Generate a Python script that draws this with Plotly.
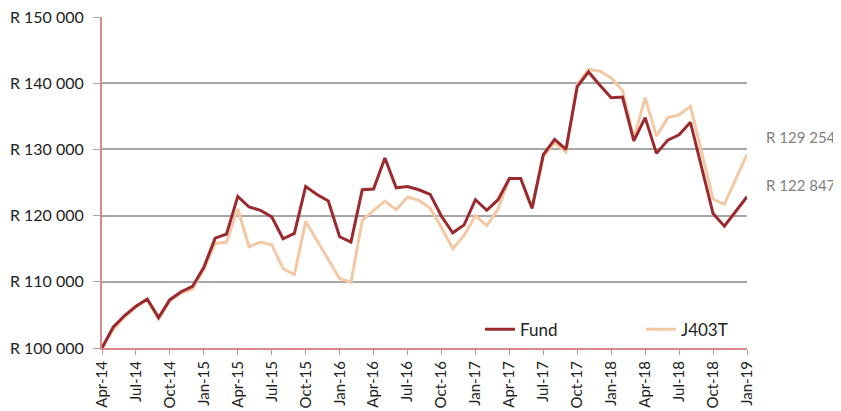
import plotly.graph_objects as go

months = ["Apr-14","May-14","Jun-14","Jul-14","Aug-14","Sep-14","Oct-14","Nov-14","Dec-14",
          "Jan-15","Feb-15","Mar-15","Apr-15","May-15","Jun-15","Jul-15","Aug-15","Sep-15","Oct-15","Nov-15","Dec-15",
          "Jan-16","Feb-16","Mar-16","Apr-16","May-16","Jun-16","Jul-16","Aug-16","Sep-16","Oct-16","Nov-16","Dec-16",
          "Jan-17","Feb-17","Mar-17","Apr-17","May-17","Jun-17","Jul-17","Aug-17","Sep-17","Oct-17","Nov-17","Dec-17",
          "Jan-18","Feb-18","Mar-18","Apr-18","May-18","Jun-18","Jul-18","Aug-18","Sep-18","Oct-18","Nov-18","Dec-18",
          "Jan-19"]

fund = [100000,103200,104900,106300,107400,104600,107300,108500,109300,
        112200,116600,117200,122900,121300,120800,119800,116500,117300,124400,123200,122200,
        116800,116000,123900,124000,128700,124200,124400,123900,123200,119900,117400,118600,
        122400,120800,122400,125600,125600,121100,129200,131500,130000,139500,141700,139700,
        137800,137900,131300,134800,129400,131400,132200,134100,127300,120300,118400,120700,
        122847]

j403t = [100000,102800,104700,106200,107300,104400,107100,108300,108900,
         111900,115800,116000,121000,115300,116000,115600,112000,111100,119100,116300,113400,
         110500,109900,119300,120800,122200,120900,122800,122300,121100,118200,115000,117000,
         120000,118500,121000,125600,125600,121100,128900,131000,129600,139800,142100,141800,
         140800,138900,131600,137800,132000,134800,135200,136500,129300,122500,121700,125400,
         129254]

tick_labels = months[::3]
y_ticks = [100000,110000,120000,130000,140000,150000]
y_ticktext = ["R " + f"{v:,}".replace(",", " ") for v in y_ticks]

FUND_COLOR = "#9b2a2f"
J_COLOR = "#f3c8a4"
FONT = "Lato"

fig = go.Figure()
fig.add_trace(go.Scatter(x=months, y=j403t, name="J403T", mode="lines",
                         line=dict(color=J_COLOR, width=3)))
fig.add_trace(go.Scatter(x=months, y=fund, name="Fund", mode="lines",
                         line=dict(color=FUND_COLOR, width=3)))

def fmt(v):
    return "R " + f"{v:,}".replace(",", " ")

fig.add_annotation(x=1.0, xref="paper", xanchor="left", xshift=17, y=j403t[-1], yref="y",
                   yshift=17, text=fmt(j403t[-1]), showarrow=False,
                   font=dict(family=FONT, size=15, color="#7f7f7f"))
fig.add_annotation(x=1.0, xref="paper", xanchor="left", xshift=17, y=fund[-1], yref="y",
                   yshift=12, text=fmt(fund[-1]), showarrow=False,
                   font=dict(family=FONT, size=15, color="#7f7f7f"))

fig.update_layout(
    width=833, height=403,
    margin=dict(l=94, r=94, t=9, b=63, autoexpand=False),
    paper_bgcolor="white", plot_bgcolor="white",
    font=dict(family=FONT, size=15, color="#222222"),
    showlegend=True,
    legend=dict(orientation="h", x=0.586, y=0.055, xanchor="left", yanchor="middle",
                traceorder="reversed", bgcolor="rgba(0,0,0,0)",
                font=dict(family=FONT, size=17, color="#222222"),
                entrywidth=116, entrywidthmode="pixels"),
    xaxis=dict(type="category", range=[0, len(months) - 1],
               tickmode="array", tickvals=tick_labels, ticktext=tick_labels,
               tickangle=-90, showgrid=False, showline=True, linecolor="#d98a8a", linewidth=2,
               ticks="outside", ticklen=5, tickcolor="#d98a8a",
               tickfont=dict(family=FONT, size=15, color="#222222")),
    yaxis=dict(range=[100000, 150000], tickmode="array", tickvals=y_ticks, ticktext=y_ticktext,
               showgrid=True, gridcolor="#a6a6a6", gridwidth=2, zeroline=False,
               showline=True, linecolor="#d98a8a", linewidth=2,
               ticks="outside", ticklen=7, tickcolor="#a6a6a6",
               ticklabeloverflow="allow", ticklabelstandoff=6,
               tickfont=dict(family=FONT, size=16, color="#222222")),
)

fig.write_html("out.html")
